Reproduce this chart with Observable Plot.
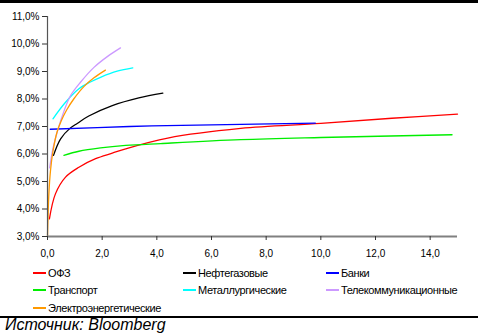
<!DOCTYPE html>
<html><head><meta charset="utf-8">
<script src="https://cdn.jsdelivr.net/npm/d3@7"></script>
<script src="https://cdn.jsdelivr.net/npm/@observablehq/plot@0.6"></script>
<style>
body{margin:0;background:#fff;font-family:Arial,"Liberation Sans",sans-serif;}
#wrap{position:relative;width:478px;height:333px;overflow:hidden;}
#chart{position:absolute;left:0;top:0;}
.topline{position:absolute;left:0;top:0;width:478px;height:2.5px;background:#000;}
.botline{position:absolute;left:0;top:315.5px;width:478px;height:2px;background:#000;}
.src{position:absolute;left:5px;top:316px;font-style:italic;font-size:16px;line-height:18px;color:#000;}
.leg{position:absolute;font-size:11px;letter-spacing:-0.4px;color:#000;white-space:nowrap;line-height:12px;}
.leg i{display:inline-block;width:13px;height:2px;vertical-align:middle;margin-right:2px;position:relative;top:-1px;}
</style></head>
<body><div id="wrap"><div class="topline"></div><div id="chart"></div>
<div class="botline"></div><div class="src">Источник: Bloomberg</div></div>
<script>
const seriesNames = ["ОФЗ","Нефтегазовые","Банки","Транспорт","Металлургические","Телекоммуникационные","Электроэнергетические"];
const seriesColors = ["#ff0000","#000000","#0000ff","#00ee00","#00ffff","#cc99ff","#ff9900"];
const xTicks = [0,2,4,6,8,10,12,14];
const yTicks = [3,4,5,6,7,8,9,10,11];

const ofz = [[0.07,3.64],[0.29,4.55],[0.66,5.16],[1.15,5.52],[1.76,5.83],[2.37,6.03],[2.86,6.19],[4.4,6.58],[7.07,6.93],[10,7.11],[12.6,7.3],[15,7.45]];
const oilgas = [[0.22,5.95],[0.48,6.55],[0.84,6.95],[1.1,7.12],[1.51,7.38],[2.37,7.76],[3.34,8.04],[4.22,8.21]];
const banks = [[0.1,6.9],[3,7.0],[6,7.06],[9.8,7.12]];
const transport = [[0.6,5.95],[1.15,6.1],[1.94,6.22],[2.86,6.31],[4.14,6.38],[7.07,6.52],[10,6.6],[14.8,6.7]];
const metals = [[0.2,7.28],[0.66,7.88],[1.15,8.37],[1.57,8.62],[1.94,8.79],[2.55,9.01],[3.12,9.13]];
const telecom = [[0.08,5.5],[0.2,6.2],[0.4,6.95],[0.6,7.55],[0.84,8.12],[1.2,8.6],[1.7,9.15],[2.2,9.55],[2.67,9.86]];
const power = [[0.0,3.0],[0.05,4.55],[0.11,5.4],[0.2,6.1],[0.35,6.8],[0.5,7.2],[0.7,7.6],[0.96,8.0],[1.33,8.45],[1.7,8.77],[2.12,9.05]];
const seriesData = [ofz,oilgas,banks,transport,metals,telecom,power];

const fmt1 = d => d.toFixed(1).replace(".", ",");
const lineMarks = seriesData.map((s,i) => Plot.line(s, {x: d=>d[0], y: d=>d[1], stroke: seriesColors[i], strokeWidth: 1.3, curve: "catmull-rom"}));

const chart = Plot.plot({
  width: 478, height: 262,
  marginTop: 16, marginBottom: 26, marginLeft: 47, marginRight: 21,
  style: {fontFamily: "Arial, 'Liberation Sans', sans-serif", fontSize: "10px", color: "#000", background: "transparent"},
  x: {domain: [0, 15]},
  y: {domain: [3, 11]},
  marks: [
    ...lineMarks,
    Plot.ruleX([0], {stroke: "#555", strokeWidth: 1.2}),
    Plot.ruleY([3], {stroke: "#808080", strokeWidth: 2}),
    Plot.axisX({ticks: xTicks, tickFormat: fmt1, tickSize: 4, tickPadding: 9, stroke: "#333", fill: "#000"}),
    Plot.axisY({ticks: yTicks, tickFormat: d => fmt1(d) + "%", tickSize: 5, tickPadding: 3, stroke: "#333", fill: "#000"})
  ]
});
document.getElementById("chart").appendChild(chart);

const legPos = [[33,267],[183,267],[326,267],[33,284],[183,284],[326,284],[33,302]];
const wrap = document.getElementById("wrap");
seriesNames.forEach((n,i) => {
  const el = document.createElement("div");
  el.className = "leg";
  el.style.left = legPos[i][0] + "px";
  el.style.top = legPos[i][1] + "px";
  el.innerHTML = `<i style="background:${seriesColors[i]}"></i>` + n;
  wrap.appendChild(el);
});
</script></body></html>
